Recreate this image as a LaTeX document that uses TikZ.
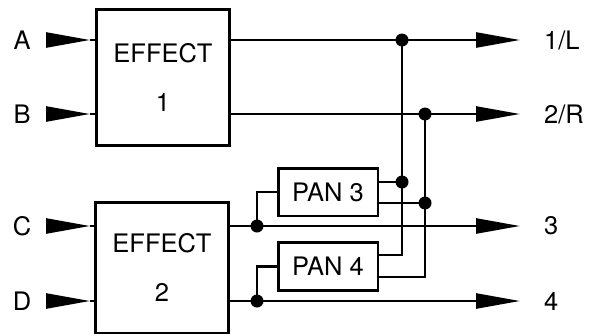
\documentclass[tikz,border=0pt]{standalone}
\usepackage{fontspec}
\setmainfont{TeX Gyre Heros}
\usetikzlibrary{arrows.meta}

\begin{document}
\begin{tikzpicture}[x=0.02cm, y=-0.02cm, line width=1.4pt,
  every node/.style={font=\fontsize{14.5}{28}\selectfont},
  fxbox/.style={draw, line width=1.7pt, align=center, inner sep=0pt, minimum width=2.68cm},
  panbox/.style={draw, line width=1.7pt, inner sep=0pt, minimum width=2cm, minimum height=0.96cm},
  wedge/.style={-{Triangle[length=0.88cm, width=0.3cm]}},
  dot/.style={circle, fill, inner sep=0pt, minimum size=0.26cm}]
  \useasboundingbox (0,0) rectangle (594,335);
  \node[fxbox, minimum height=2.74cm] (E1) at (163,77.5) {EFFECT\\1};
  \node[fxbox, minimum height=2.62cm] (E2) at (162,267.5) {EFFECT\\2};
  \node[panbox] (P3) at (328,192) {PAN 3};
  \node[panbox] (P4) at (328,266.5) {PAN 4};
\foreach \n/\y in {A/40, B/114, C/226, D/301} {
  \node (\n) at (22,\y) {\n};
  \coordinate (\n b) at (46,\y);
  \coordinate (\n t) at (90,\y);
  \draw[wedge] (\n b) -- (\n t);
}
  \draw (At) -- (At -| E1.west);
  \draw (Bt) -- (Bt -| E1.west);
  \draw (Ct) -- (Ct -| E2.west);
  \draw (Dt) -- (Dt -| E2.west);
\foreach \n/\t/\y in {o1/{1/L}/40, o2/{2/R}/114, o3/3/226, o4/4/301} {
  \coordinate (\n) at (520,\y);
  \node[anchor=west] (\n l) at (537,\y) {\t};
}
  \draw[wedge] (o1 -| E1.east) -- (o1);
  \draw[wedge] (o2 -| E1.east) -- (o2);
  \draw[wedge] (o3 -| E2.east) -- (o3);
  \draw[wedge] (o4 -| E2.east) -- (o4);
  \coordinate (p3a) at ([yshift=0.2cm]P3.east);
  \coordinate (p3b) at ([yshift=-0.22cm]P3.east);
  \coordinate (p4a) at ([yshift=0.23cm]P4.east);
  \coordinate (p4b) at ([yshift=-0.21cm]P4.east);
  \node[dot] (j1) at (402,40) {};
  \node[dot] (j2) at (425,114) {};
  \node[dot] (j3) at (257,226) {};
  \node[dot] (j4) at (257,301) {};
  \node[dot] (j5) at (j1 |- p3a) {};
  \node[dot] (j6) at (j2 |- p3b) {};
  \draw (j1.center) -- (j1 |- p4a) -- (p4a);
  \draw (j2.center) -- (j2 |- p4b) -- (p4b);
  \draw (p3a) -- (j5.center);
  \draw (p3b) -- (j6.center);
  \draw (j3.center) |- (P3.west);
  \draw (j4.center) |- (P4.west);
\end{tikzpicture}
\end{document}
